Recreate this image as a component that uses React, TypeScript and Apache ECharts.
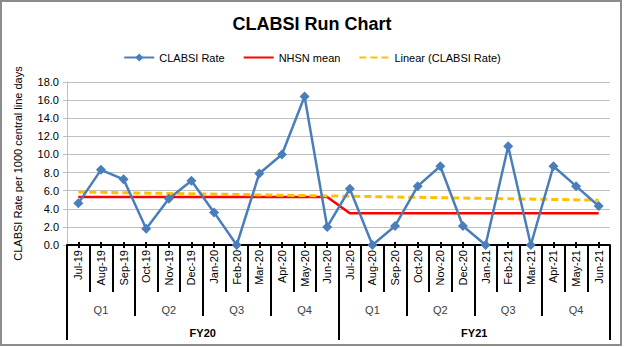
import React, { useEffect, useRef } from "react";
import * as echarts from "echarts";

const months = [
  "Jul-19", "Aug-19", "Sep-19", "Oct-19", "Nov-19", "Dec-19",
  "Jan-20", "Feb-20", "Mar-20", "Apr-20", "May-20", "Jun-20",
  "Jul-20", "Aug-20", "Sep-20", "Oct-20", "Nov-20", "Dec-20",
  "Jan-21", "Feb-21", "Mar-21", "Apr-21", "May-21", "Jun-21",
];
const quarters = ["Q1", "Q2", "Q3", "Q4", "Q1", "Q2", "Q3", "Q4"];
const fiscalYears = ["FY20", "FY21"];

const clabsiRate = [
  4.6, 8.3, 7.25, 1.8, 5.1, 7.1, 3.6, 0.0, 7.9, 10.0, 16.4, 2.0,
  6.2, 0.0, 2.1, 6.5, 8.7, 2.1, 0.0, 10.9, 0.0, 8.7, 6.5, 4.3,
];
const nhsnMean = [
  5.3, 5.3, 5.3, 5.3, 5.3, 5.3, 5.3, 5.3, 5.3, 5.3, 5.3, 5.3,
  3.5, 3.5, 3.5, 3.5, 3.5, 3.5, 3.5, 3.5, 3.5, 3.5, 3.5, 3.5,
];
const trendStart = 5.85;
const trendEnd = 4.95;

const yTicks = { min: 0, max: 18, interval: 2 };

const FONT = "'Liberation Sans', Arial, sans-serif";

export default function App() {
  const ref = useRef<HTMLDivElement>(null);

  useEffect(() => {
    if (!ref.current) return;
    const chart = echarts.init(ref.current, undefined, { renderer: "svg" });
    const sepLine = { color: "#000", width: 2 };
    const hiddenLine = { show: false };
    const noSymbol = { color: "rgba(0,0,0,0)", borderColor: "rgba(0,0,0,0)", borderWidth: 0 };
    chart.setOption({
      animation: false,
      backgroundColor: "#fff",
      textStyle: { fontFamily: FONT },
      title: {
        text: "CLABSI Run Chart",
        left: "center",
        top: 10,
        textStyle: { fontFamily: FONT, fontSize: 18, fontWeight: "bold", color: "#000" },
      },
      legend: {
        top: 47,
        left: "center",
        itemWidth: 30,
        itemHeight: 10,
        itemGap: 18,
        textStyle: { fontFamily: FONT, fontSize: 11, color: "#000" },
        data: [
          { name: "CLABSI Rate" },
          { name: "NHSN mean", itemStyle: noSymbol },
          { name: "Linear (CLABSI Rate)", itemStyle: noSymbol },
        ],
      },
      grid: { left: 67, right: 14, top: 82, bottom: 102, containLabel: false },
      yAxis: {
        type: "value",
        min: yTicks.min,
        max: yTicks.max,
        interval: yTicks.interval,
        name: "CLABSI Rate per 1000 central line days",
        nameLocation: "middle",
        nameGap: 44,
        nameTextStyle: { fontFamily: FONT, fontSize: 11, color: "#000" },
        axisLine: { show: true, lineStyle: { color: "#bfbfbf", width: 1 } },
        axisTick: { show: true, length: 4, lineStyle: { color: "#bfbfbf" } },
        axisLabel: {
          fontFamily: FONT,
          fontSize: 11,
          color: "#000",
          margin: 8,
          formatter: (v: number) => v.toFixed(1),
        },
        splitLine: { show: true, lineStyle: { color: "#bfbfbf", width: 1 } },
      },
      xAxis: [
        {
          type: "category",
          data: months,
          position: "bottom",
          boundaryGap: true,
          axisLine: { show: true, lineStyle: { color: "#000", width: 2 } },
          axisTick: { show: true, alignWithLabel: true, interval: 0, length: 3, lineStyle: sepLine },
          axisLabel: {
            interval: 0,
            rotate: 90,
            margin: 5,
            fontFamily: FONT,
            fontSize: 11,
            color: "#000",
          },
          splitLine: { show: false },
        },
        {
          type: "category",
          data: months,
          position: "bottom",
          boundaryGap: true,
          axisLine: hiddenLine,
          axisTick: { show: true, inside: true, alignWithLabel: true, interval: 0, length: 3, lineStyle: sepLine },
          axisLabel: { show: false },
          splitLine: { show: false },
        },
        {
          type: "category",
          data: months,
          position: "bottom",
          boundaryGap: true,
          axisLine: hiddenLine,
          axisTick: { show: true, alignWithLabel: false, interval: 0, length: 47, lineStyle: sepLine },
          axisLabel: { show: false },
          splitLine: { show: false },
        },
        {
          type: "category",
          data: quarters.map((q, i) => ({ value: q + "_" + i })),
          position: "bottom",
          boundaryGap: true,
          axisLine: hiddenLine,
          axisTick: { show: true, alignWithLabel: false, interval: 0, length: 71, lineStyle: sepLine },
          axisLabel: {
            interval: 0,
            margin: 59,
            fontFamily: FONT,
            fontSize: 11,
            color: "#404040",
            formatter: (v: string) => v.split("_")[0],
          },
          splitLine: { show: false },
        },
        {
          type: "category",
          data: fiscalYears,
          position: "bottom",
          boundaryGap: true,
          axisLine: hiddenLine,
          axisTick: { show: true, alignWithLabel: false, interval: 0, length: 95, lineStyle: sepLine },
          axisLabel: {
            interval: 0,
            margin: 82,
            fontFamily: FONT,
            fontSize: 11,
            fontWeight: "bold",
            color: "#000",
          },
          splitLine: { show: false },
        },
      ],
      series: [
        {
          name: "CLABSI Rate",
          type: "line",
          xAxisIndex: 0,
          data: clabsiRate,
          symbol: "diamond",
          symbolSize: 10,
          showAllSymbol: true,
          lineStyle: { color: "#4a7ebb", width: 2.5 },
          itemStyle: { color: "#4a7ebb" },
          z: 4,
        },
        {
          name: "NHSN mean",
          type: "line",
          xAxisIndex: 0,
          data: nhsnMean,
          symbol: "none",
          lineStyle: { color: "#ff0000", width: 2.5 },
          itemStyle: { color: "#ff0000" },
          z: 3,
        },
        {
          name: "Linear (CLABSI Rate)",
          type: "line",
          xAxisIndex: 0,
          data: [
            [months[0], trendStart],
            [months[months.length - 1], trendEnd],
          ],
          symbol: "none",
          lineStyle: { color: "#ffc000", width: 3, type: [7, 4] },
          itemStyle: { color: "#ffc000" },
          z: 3,
        },
      ],
    });
    return () => chart.dispose();
  }, []);

  return (
    <div style={{ position: "absolute", left: 0, top: 0, width: 624, height: 347, background: "#fff" }}>
      <div ref={ref} style={{ position: "absolute", left: 0, top: 0, width: 624, height: 347 }} />
      <div
        style={{
          position: "absolute",
          left: 0,
          top: 0,
          width: 622,
          height: 346,
          boxSizing: "border-box",
          border: "2px solid #8c8c8c",
          pointerEvents: "none",
        }}
      />
    </div>
  );
}
